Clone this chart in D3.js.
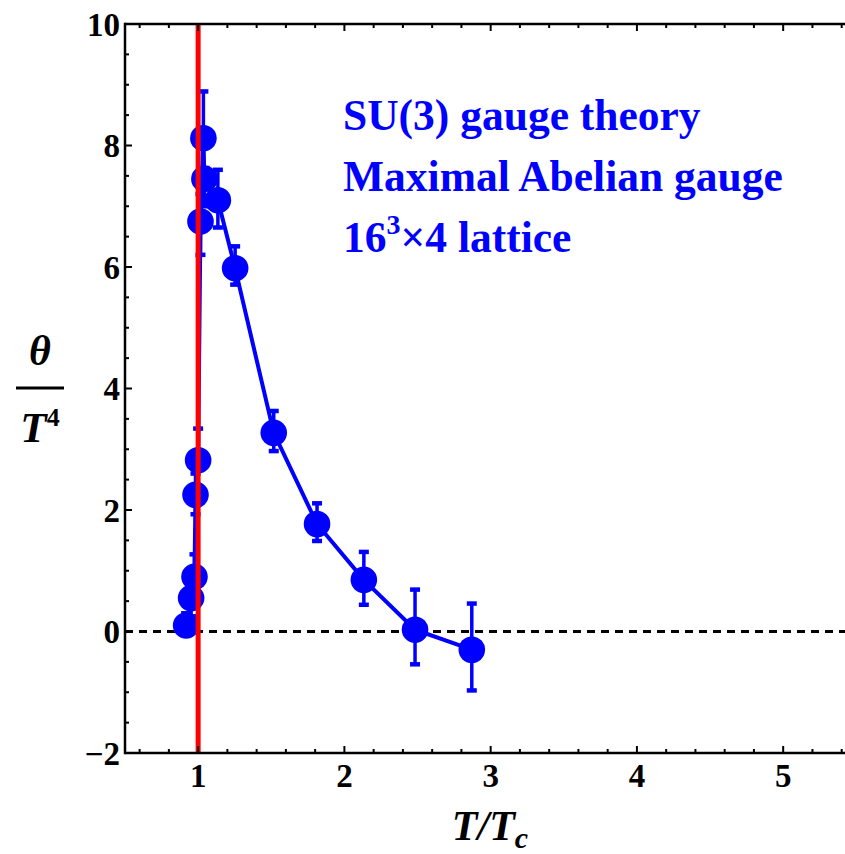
<!DOCTYPE html>
<html>
<head>
<meta charset="utf-8">
<script src="https://cdn.jsdelivr.net/npm/d3@7"></script>
<style>
body { margin: 0; background: #fff; }
text { font-family: "Liberation Serif", "Times New Roman", serif; }
</style>
</head>
<body>
<svg id="chart" width="845" height="854"></svg>
<script>
'use strict';

// T/Tc, theta/T^4 and error bar ends
var tRatio = [0.918, 0.952, 0.975, 0.982, 1.0, 1.016, 1.036, 1.043, 1.135, 1.253, 1.517, 1.813, 2.133, 2.483, 2.871];
var theta = [0.10, 0.55, 0.90, 2.25, 2.82, 6.75, 8.12, 7.45, 7.10, 5.98, 3.27, 1.77, 0.85, 0.03, -0.30];
var errHi = [0.30, 0.85, 1.27, 2.60, 3.34, 7.20, 8.89, 7.63, 7.60, 6.34, 3.63, 2.11, 1.31, 0.69, 0.46];
var errLo = [0.00, 0.25, 0.55, 1.93, 2.30, 6.20, 7.40, 7.00, 6.65, 5.71, 2.97, 1.49, 0.44, -0.54, -0.97];

var xTicks = [1, 2, 3, 4, 5];
var yTicks = [-2, 0, 2, 4, 6, 8, 10];
var labelLines = ['SU(3) gauge theory', 'Maximal Abelian gauge'];

var BLUE = '#0000ff';

var svg = d3.select('#chart');

var x = d3.scaleLinear().domain([0.5, 5.45]).range([125, 849]);
var y = d3.scaleLinear().domain([-2, 10]).range([753, 24]);

var xMinor = d3.range(0.6, 5.45, 0.2).filter(function(v) {
    return Math.abs(v - Math.round(v)) > 0.01;
});
var yMinor = d3.range(-1.5, 10, 0.5).filter(function(v) {
    return Math.abs(v / 2 - Math.round(v / 2)) > 0.01;
});

// zero line
svg.append('line')
    .attr('x1', x(0.5)).attr('x2', x(5.45))
    .attr('y1', y(0)).attr('y2', y(0))
    .attr('stroke', '#000')
    .attr('stroke-width', 3)
    .attr('stroke-dasharray', '8,6');

// error bars
var bars = svg.append('g').attr('fill', 'none').attr('stroke', BLUE);
tRatio.forEach(function(t, i) {
    var cx = x(t);
    bars.append('line')
        .attr('x1', cx).attr('x2', cx)
        .attr('y1', y(errLo[i])).attr('y2', y(errHi[i]))
        .attr('stroke-width', 3.5);
    [errLo[i], errHi[i]].forEach(function(v) {
        bars.append('line')
            .attr('x1', cx - 5).attr('x2', cx + 5)
            .attr('y1', y(v)).attr('y2', y(v))
            .attr('stroke-width', 4.5);
    });
});

// connecting line
var pts = tRatio.map(function(t, i) { return [t, theta[i]]; });
svg.append('path')
    .datum(pts)
    .attr('fill', 'none')
    .attr('stroke', BLUE)
    .attr('stroke-width', 4)
    .attr('d', d3.line().x(function(d) { return x(d[0]); }).y(function(d) { return y(d[1]); }));

svg.append('g').selectAll('circle')
    .data(pts)
    .join('circle')
    .attr('cx', function(d) { return x(d[0]); })
    .attr('cy', function(d) { return y(d[1]); })
    .attr('r', 13.3)
    .attr('fill', BLUE);

// Tc line
svg.append('line')
    .attr('x1', x(1)).attr('x2', x(1))
    .attr('y1', y(10)).attr('y2', y(-2))
    .attr('stroke', '#ff0000')
    .attr('stroke-width', 5);

// frame
var frame = svg.append('g').attr('stroke', '#000');
frame.append('line').attr('x1', x(0.5)).attr('x2', 845).attr('y1', y(-2)).attr('y2', y(-2)).attr('stroke-width', 2.5);
frame.append('line').attr('x1', x(0.5)).attr('x2', 845).attr('y1', y(10)).attr('y2', y(10)).attr('stroke-width', 2.5);
frame.append('line').attr('x1', x(0.5)).attr('x2', x(0.5)).attr('y1', y(-2) + 1.25).attr('y2', y(10) - 1.25).attr('stroke-width', 2.5);

function tickMarks(vals, len) {
    vals.forEach(function(v) {
        frame.append('line').attr('x1', x(v)).attr('x2', x(v))
            .attr('y1', y(-2)).attr('y2', y(-2) - len).attr('stroke-width', 2);
        frame.append('line').attr('x1', x(v)).attr('x2', x(v))
            .attr('y1', y(10)).attr('y2', y(10) + len).attr('stroke-width', 2);
    });
}
tickMarks(xTicks, 7);
tickMarks(xMinor, 4);
yTicks.forEach(function(v) {
    frame.append('line').attr('x1', x(0.5)).attr('x2', x(0.5) + 7)
        .attr('y1', y(v)).attr('y2', y(v)).attr('stroke-width', 2);
});
yMinor.forEach(function(v) {
    frame.append('line').attr('x1', x(0.5)).attr('x2', x(0.5) + 4)
        .attr('y1', y(v)).attr('y2', y(v)).attr('stroke-width', 2);
});

// tick labels
svg.append('g').selectAll('text')
    .data(xTicks)
    .join('text')
    .attr('x', function(d) { return x(d); })
    .attr('y', 787)
    .attr('text-anchor', 'middle')
    .attr('font-size', 33)
    .attr('font-weight', 'bold')
    .text(function(d) { return d; });

svg.append('g').selectAll('text')
    .data(yTicks)
    .join('text')
    .attr('x', 120)
    .attr('y', function(d) { return y(d) + 11.5; })
    .attr('text-anchor', 'end')
    .attr('font-size', 33)
    .attr('font-weight', 'bold')
    .text(function(d) { return d < 0 ? '\u2212' + Math.abs(d) : d; });

// axis titles
var xt = svg.append('text')
    .attr('x', 490).attr('y', 840)
    .attr('text-anchor', 'middle')
    .attr('font-size', 42)
    .attr('font-weight', 'bold')
    .attr('font-style', 'italic');
xt.append('tspan').text('T/T');
xt.append('tspan').attr('font-size', 30).attr('dy', 8).text('c');

svg.append('text')
    .attr('x', 40).attr('y', 365)
    .attr('text-anchor', 'middle')
    .attr('font-size', 42)
    .attr('font-weight', 'bold')
    .attr('font-style', 'italic')
    .text('\u03b8');
svg.append('line')
    .attr('x1', 16).attr('x2', 64)
    .attr('y1', 388).attr('y2', 388)
    .attr('stroke', '#000').attr('stroke-width', 3);
var yt = svg.append('text')
    .attr('x', 40).attr('y', 442)
    .attr('text-anchor', 'middle')
    .attr('font-size', 43)
    .attr('font-weight', 'bold');
yt.append('tspan').attr('font-style', 'italic').text('T');
yt.append('tspan').attr('font-size', 26).attr('dy', -16).text('4');

// annotation
var note = svg.append('g')
    .attr('fill', BLUE)
    .attr('font-size', 43.5)
    .attr('font-weight', 'bold');
labelLines.forEach(function(s, i) {
    note.append('text').attr('x', 343).attr('y', 130 + i * 61).text(s);
});
var n3 = note.append('text').attr('x', 343).attr('y', 252);
n3.append('tspan').text('16');
n3.append('tspan').attr('font-size', 28).attr('dy', -18).text('3');
n3.append('tspan').attr('dy', 18).text('\u00d74 lattice');
</script>
</body>
</html>
